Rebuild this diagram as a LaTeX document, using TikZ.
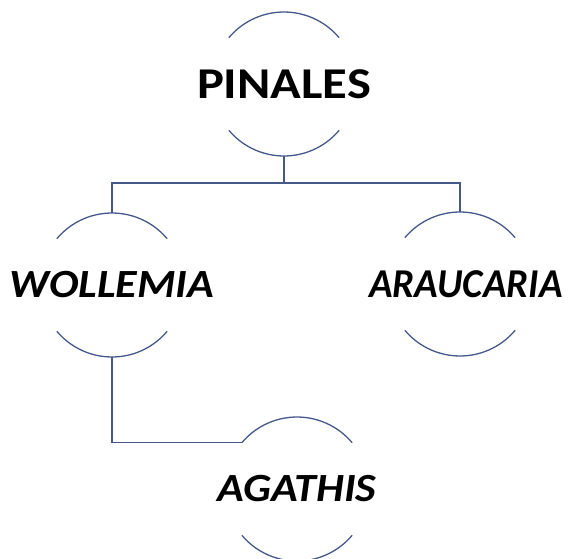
\documentclass[tikz,border=0pt]{standalone}
\usepackage{fontspec}
\setmainfont{Carlito}
\newfontfamily\namefont[FakeStretch=1.15]{Carlito Bold}
\newfontfamily\genusfont[FakeStretch=1.1]{Carlito Bold Italic}
\newfontfamily\genusnarrow[FakeStretch=0.95]{Carlito Bold Italic}
\usetikzlibrary{positioning}
\definecolor{arcblue}{RGB}{68,88,138}

\begin{document}
\begin{tikzpicture}[x=1pt,y=-1pt,
  ring/.style={circle,minimum size=144pt,inner sep=0pt,outer sep=0pt},
  taxon/.style={inner sep=0pt,font=\genusfont\fontsize{40}{48}\selectfont},
  rim/.style={draw=arcblue,line width=1.3pt},
  link/.style={draw=arcblue,line width=1.5pt}]
  \useasboundingbox (0,0) rectangle (568,559);
  \node[ring] (pinales) at (284,84) {};
  \node[ring] (wollemia) at (112,285) {};
  \node[ring] (araucaria) at (460,284) {};
  \node[ring] (agathis) at (297,489) {};
  \node[taxon,font=\namefont\fontsize{44}{52}\selectfont] (pinales-name) at (pinales) {PINALES};
  \node[taxon] (wollemia-name) at (wollemia) {WOLLEMIA};
  \node[taxon,font=\genusnarrow\fontsize{41}{48}\selectfont] (araucaria-name) at ([xshift=6pt]araucaria) {ARAUCARIA};
  \node[taxon] (agathis-name) at (agathis) {AGATHIS};
  % arcs above and below each name
  \foreach \n in {pinales,wollemia,araucaria,agathis}{
    \draw[rim] (\n.40) arc[start angle=40,end angle=140,radius=72pt];
    \draw[rim] (\n.220) arc[start angle=220,end angle=320,radius=72pt];
  }
  \coordinate (fork) at (284,183);
  \draw[link] (pinales.south) -- (fork) -| (wollemia.north);
  \draw[link] (fork) -| (araucaria.north);
  \draw[link] (wollemia.south) |- (agathis.140);
\end{tikzpicture}
\end{document}
